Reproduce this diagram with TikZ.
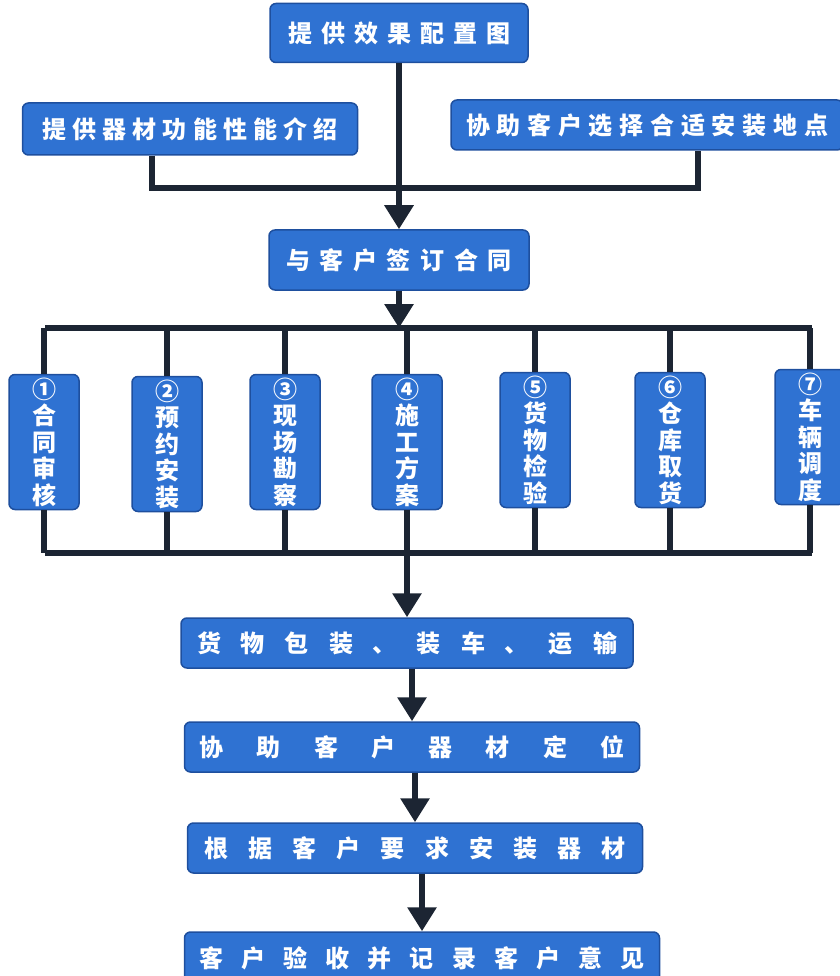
\documentclass[tikz,border=0pt]{standalone}
\usepackage{fontspec}
\newfontfamily\cjk{Noto Sans CJK SC}
\usetikzlibrary{arrows.meta}
\definecolor{boxblue}{HTML}{2F72D2}
\definecolor{boxedge}{HTML}{1E4F9E}
\definecolor{linedark}{HTML}{1C2533}
\tikzset{
  bluebox/.style={draw=boxedge, line width=1.5pt, fill=boxblue, rounded corners=6pt,
    text=white, font=\cjk\bfseries\fontsize{24}{28}\selectfont, inner sep=0pt},
  vbox/.style={bluebox, minimum width=70pt, minimum height=135pt, align=center,
    font=\cjk\bfseries\fontsize{24}{26.5}\selectfont},
  conn/.style={draw=linedark, line width=6pt},
  arr/.style={conn, -{Triangle[width=28pt,length=24pt]}},
}
\begin{document}
\begin{tikzpicture}[x=1pt,y=-1pt]
\useasboundingbox (0,0) rectangle (839,976);
% top section
\node[bluebox, minimum width=258pt, minimum height=59pt] (a) at (399,33)
  {\makebox[222pt][s]{提\hfill 供\hfill 效\hfill 果\hfill 配\hfill 置\hfill 图}};
\node[bluebox, minimum width=335pt, minimum height=52pt] (b) at (190,129)
  {\makebox[295pt][s]{提\hfill 供\hfill 器\hfill 材\hfill 功\hfill 能\hfill 性\hfill 能\hfill 介\hfill 绍}};
\node[bluebox, minimum width=392pt, minimum height=50pt] (c) at (647,125)
  {\makebox[362pt][s]{协\hfill 助\hfill 客\hfill 户\hfill 选\hfill 择\hfill 合\hfill 适\hfill 安\hfill 装\hfill 地\hfill 点}};
\node[bluebox, minimum width=260pt, minimum height=60pt] (d) at (399,260)
  {\makebox[226pt][s]{与\hfill 客\hfill 户\hfill 签\hfill 订\hfill 合\hfill 同}};
\coordinate (bl) at (152,188);
\coordinate (br) at (698,188);
\draw[conn] (b.south -| bl) -- (bl) -- (br) -- (c.south -| br);
\draw[arr] (a.south) -- (d.north);
% fan out
\coordinate (tl) at (45,328);
\coordinate (tr) at (812,328);
\coordinate (ll) at (45,553);
\coordinate (lr) at (812,553);
\draw[arr] (d.south) -- (d.south |- tl);
\draw[conn] (tl) -- (tr);
\draw[conn] (ll) -- (lr);
\node[vbox] (v1) at (44,442) {①\\合\\同\\审\\核};
\node[vbox] (v2) at (167,444) {②\\预\\约\\安\\装};
\node[vbox] (v3) at (285,442) {③\\现\\场\\勘\\察};
\node[vbox] (v4) at (407,442) {④\\施\\工\\方\\案};
\node[vbox] (v5) at (535,440) {⑤\\货\\物\\检\\验};
\node[vbox] (v6) at (670,440) {⑥\\仓\\库\\取\\货};
\node[vbox] (v7) at (810,437) {⑦\\车\\辆\\调\\度};
\foreach \i in {1,...,7}{
  \draw[conn] (v\i.north |- tl) -- (v\i.north);
  \draw[conn] (v\i.south) -- (v\i.south |- ll);
}
% lower chain
\node[bluebox, minimum width=452pt, minimum height=50pt] (e) at (407,643)
  {\makebox[420pt][s]{货\hfill 物\hfill 包\hfill 装\hfill 、\hfill 装\hfill 车\hfill 、\hfill 运\hfill 输}};
\node[bluebox, minimum width=455pt, minimum height=50pt] (f) at (412,747)
  {\makebox[425pt][s]{协\hfill 助\hfill 客\hfill 户\hfill 器\hfill 材\hfill 定\hfill 位}};
\node[bluebox, minimum width=455pt, minimum height=50pt] (g) at (415,848)
  {\makebox[422pt][s]{根\hfill 据\hfill 客\hfill 户\hfill 要\hfill 求\hfill 安\hfill 装\hfill 器\hfill 材}};
\node[bluebox, minimum width=475pt, minimum height=52pt] (h) at (422,958)
  {\makebox[445pt][s]{客\hfill 户\hfill 验\hfill 收\hfill 并\hfill 记\hfill 录\hfill 客\hfill 户\hfill 意\hfill 见}};
\draw[arr] (v4.south |- ll) -- (e.north);
\draw[arr] (e.south -| f.north) -- (f.north);
\draw[arr] (f.south -| g.north) -- (g.north);
\draw[arr] (g.south -| h.north) -- (h.north);
\end{tikzpicture}
\end{document}
